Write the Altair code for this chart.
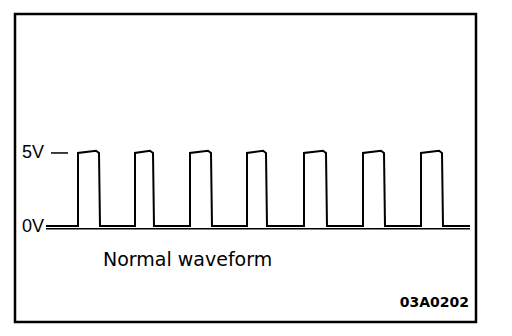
import altair as alt
import pandas as pd

# Pulse edges (time units)
rise_times = [78, 135, 190, 247, 304, 363, 421]
fall_times = [100, 154, 212, 267, 327, 385, 443]
start_time = 46
end_time = 470
low_level = 0.0
high_level = 5.0
peak_level = 5.15   # small bump at the end of each high phase

# Axis / labels
axis_start = 46
axis_end = 470
axis_level = -0.2
volt_labels = ["5V", "0V"]
volt_values = [5.1, 0.0]
caption = "Normal waveform"
code = "03A0202"

# Build waveform points
pts = [(start_time, low_level)]
for r, f in zip(rise_times, fall_times):
    pts += [(r, low_level), (r, high_level), (f - 4, peak_level), (f - 1, high_level), (f, low_level)]
pts.append((end_time, low_level))
wave = pd.DataFrame(pts, columns=["t", "v"])
wave["order"] = range(len(wave))

X_DOM = [15, 476]
Y_DOM = [-6.58, 14.52]
xs = alt.Scale(domain=X_DOM, nice=False, zero=False)
ys = alt.Scale(domain=Y_DOM, nice=False, zero=False)

line = alt.Chart(wave).mark_line(color="black", strokeWidth=2, interpolate="linear").encode(
    x=alt.X("t:Q", scale=xs, axis=None),
    y=alt.Y("v:Q", scale=ys, axis=None),
    order="order:Q",
)

axis_df = pd.DataFrame({"t": [axis_start], "t2": [axis_end], "v": [axis_level]})
axis_rule = alt.Chart(axis_df).mark_rule(color="black", strokeWidth=1.5).encode(
    x=alt.X("t:Q", scale=xs, axis=None), x2="t2:Q", y=alt.Y("v:Q", scale=ys, axis=None)
)

tick_df = pd.DataFrame({"t": [51], "t2": [68], "v": [5.0]})
ticks = alt.Chart(tick_df).mark_rule(color="black", strokeWidth=1.5).encode(
    x=alt.X("t:Q", scale=xs, axis=None), x2="t2:Q", y=alt.Y("v:Q", scale=ys, axis=None)
)

lab_df = pd.DataFrame({"t": [22, 22], "v": volt_values, "label": volt_labels})
labels = alt.Chart(lab_df).mark_text(
    align="left", baseline="middle", font="Liberation Sans", fontSize=18, color="black", dy=1
).encode(x=alt.X("t:Q", scale=xs, axis=None), y=alt.Y("v:Q", scale=ys, axis=None), text="label:N")

cap_df = pd.DataFrame({"t": [103], "v": [-2.3], "label": [caption]})
cap = alt.Chart(cap_df).mark_text(
    align="left", baseline="middle", font="DejaVu Sans", fontSize=19, color="black"
).encode(x=alt.X("t:Q", scale=xs, axis=None), y=alt.Y("v:Q", scale=ys, axis=None), text="label:N")

code_df = pd.DataFrame({"t": [469], "v": [-5.25], "label": [code]})
code_txt = alt.Chart(code_df).mark_text(
    align="right", baseline="middle", font="DejaVu Sans", fontSize=14, fontWeight="bold", color="black"
).encode(x=alt.X("t:Q", scale=xs, axis=None), y=alt.Y("v:Q", scale=ys, axis=None), text="label:N")

chart = alt.layer(axis_rule, ticks, line, labels, cap, code_txt).properties(
    width=461, height=308,
    padding={"left": 15, "top": 14, "right": 36, "bottom": 14},
    autosize=alt.AutoSizeParams(type="none"),
    background="white",
).configure_view(stroke="black", strokeWidth=2.5)

chart.save("out.html", embed_options={"renderer": "svg", "actions": False})
